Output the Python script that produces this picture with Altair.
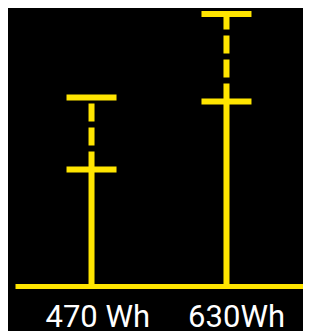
import altair as alt
import pandas as pd

categories = ["470 Wh", "630Wh"]
low_values = [60, 95]
high_values = [97, 140]

YELLOW = "#FFE500"

df = pd.DataFrame({"cat": categories, "low": low_values, "high": high_values, "zero": [0, 0]})

x = alt.X("cat:N", sort=categories, title=None,
          scale=alt.Scale(type="point", padding=0.567, align=0.5),
          axis=alt.Axis(domainColor=YELLOW, domainWidth=5, ticks=False, grid=False,
                        labelColor="white", labelFont="Roboto", labelFontSize=31,
                        labelAngle=0, labelAlign="right", labelOffset=58, labelPadding=16))
yscale = alt.Scale(domain=[0, 140], nice=False, zero=True)

base = alt.Chart(df)

solid = base.mark_rule(color=YELLOW, strokeWidth=6).encode(
    x=x, y=alt.Y("zero:Q", scale=yscale, axis=None), y2="low:Q")
dashed = base.mark_rule(color=YELLOW, strokeWidth=6, strokeDash=[18, 6]).encode(
    x=x, y=alt.Y("low:Q", scale=yscale, axis=None), y2="high:Q")
tick_low = base.mark_tick(color=YELLOW, size=50, thickness=6, opacity=1, orient="horizontal").encode(
    x=x, y=alt.Y("low:Q", scale=yscale, axis=None))
tick_high = base.mark_tick(color=YELLOW, size=50, thickness=6, opacity=1, orient="horizontal").encode(
    x=x, y=alt.Y("high:Q", scale=yscale, axis=None))

chart = alt.layer(solid, dashed, tick_low, tick_high).properties(
    width=288, height=272,
    autosize=alt.AutoSizeParams(type="none"),
    padding={"left": 7, "top": 6, "right": 0, "bottom": 45},
    background="black",
).configure_view(stroke=None)

chart.save("out.html", embed_options={"renderer": "svg", "actions": False})
